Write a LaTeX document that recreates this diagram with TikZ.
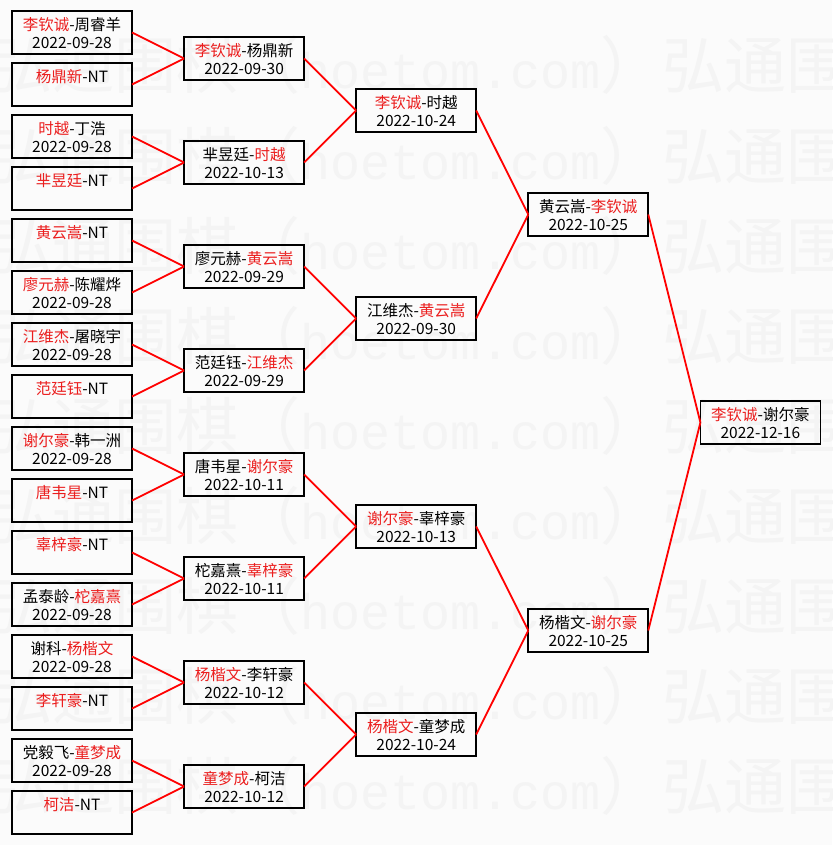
\documentclass[tikz,border=0pt]{standalone}
\usepackage{fontspec}
\setmainfont{Noto Sans CJK SC}
\newfontfamily\wmmono{Liberation Mono}
\definecolor{win}{RGB}{235,30,30}
\definecolor{bgc}{RGB}{251,251,251}
\definecolor{wmc}{RGB}{244,244,244}
\newcommand\W[1]{\textcolor{win}{#1}}
\newcommand\bx[5]{%
  \node[box] (#1) at (#2,#3) {};
  \node[lab] (#1l) at ([yshift=1.8pt]#1.center) {#4};
  \node[lab] (#1d) at ([yshift=-15.8pt]#1.center) {#5};}
\newcommand\bxn[4]{%
  \node[box] (#1) at (#2,#3) {};
  \node[lab] (#1l) at ([yshift=1.8pt]#1.center) {#4};}
\begin{document}
\begin{tikzpicture}[x=1pt,y=-1pt,
  box/.style={draw=black, line width=1.8pt, minimum width=120pt, minimum height=43pt, inner sep=0pt, outer sep=0pt},
  lab/.style={anchor=base, inner sep=0pt, font=\fontsize{15.5}{18}\selectfont},
  wire/.style={draw=red, line width=1.8pt},
  wm/.style={anchor=base west, inner sep=0pt, text=wmc, font=\fontsize{62}{62}\selectfont}]
\useasboundingbox[fill=bgc] (0,0) rectangle (832,845);
\begin{scope}
\clip (0,0) rectangle (832,845);
\foreach \n in {0,...,8}{
  \node[wm] (wm\n) at (-10,{89+90*\n}) {弘通围棋（{\wmmono\fontsize{50}{62}\selectfont hoetom.com}）弘通围棋};
}
\end{scope}
% round 1
\bx{a1}{72}{32.5}{\W{李钦诚}-周睿羊}{2022-09-28}
\bxn{a2}{72}{84.5}{\W{杨鼎新}-NT}
\bx{a3}{72}{136.5}{\W{时越}-丁浩}{2022-09-28}
\bxn{a4}{72}{188.5}{\W{芈昱廷}-NT}
\bxn{a5}{72}{240.5}{\W{黄云嵩}-NT}
\bx{a6}{72}{292.5}{\W{廖元赫}-陈耀烨}{2022-09-28}
\bx{a7}{72}{344.5}{\W{江维杰}-屠晓宇}{2022-09-28}
\bxn{a8}{72}{396.5}{\W{范廷钰}-NT}
\bx{a9}{72}{448.5}{\W{谢尔豪}-韩一洲}{2022-09-28}
\bxn{a10}{72}{500.5}{\W{唐韦星}-NT}
\bxn{a11}{72}{552.5}{\W{辜梓豪}-NT}
\bx{a12}{72}{604.5}{孟泰龄-\W{柁嘉熹}}{2022-09-28}
\bx{a13}{72}{656.5}{谢科-\W{杨楷文}}{2022-09-28}
\bxn{a14}{72}{708.5}{\W{李轩豪}-NT}
\bx{a15}{72}{760.5}{党毅飞-\W{童梦成}}{2022-09-28}
\bxn{a16}{72}{812.5}{\W{柯洁}-NT}
% round 2
\bx{b1}{244.1}{58.5}{\W{李钦诚}-杨鼎新}{2022-09-30}
\bx{b2}{244.1}{162.5}{芈昱廷-\W{时越}}{2022-10-13}
\bx{b3}{244.1}{266.5}{廖元赫-\W{黄云嵩}}{2022-09-29}
\bx{b4}{244.1}{370.5}{范廷钰-\W{江维杰}}{2022-09-29}
\bx{b5}{244.1}{474.5}{唐韦星-\W{谢尔豪}}{2022-10-11}
\bx{b6}{244.1}{578.5}{柁嘉熹-\W{辜梓豪}}{2022-10-11}
\bx{b7}{244.1}{682.5}{\W{杨楷文}-李轩豪}{2022-10-12}
\bx{b8}{244.1}{786.5}{\W{童梦成}-柯洁}{2022-10-12}
% round 3
\bx{c1}{416.2}{110.5}{\W{李钦诚}-时越}{2022-10-24}
\bx{c2}{416.2}{318.5}{江维杰-\W{黄云嵩}}{2022-09-30}
\bx{c3}{416.2}{526.5}{\W{谢尔豪}-辜梓豪}{2022-10-13}
\bx{c4}{416.2}{734.5}{\W{杨楷文}-童梦成}{2022-10-24}
% round 4
\bx{d1}{588.3}{214.5}{黄云嵩-\W{李钦诚}}{2022-10-25}
\bx{d2}{588.3}{630.5}{杨楷文-\W{谢尔豪}}{2022-10-25}
% final
\bx{f}{760.4}{422.5}{\W{李钦诚}-谢尔豪}{2022-12-16}
% connectors
\foreach \i/\j in {1/1,2/1,3/2,4/2,5/3,6/3,7/4,8/4,9/5,10/5,11/6,12/6,13/7,14/7,15/8,16/8}
  \draw[wire] (a\i.east) -- (b\j.west);
\foreach \i/\j in {1/1,2/1,3/2,4/2,5/3,6/3,7/4,8/4}
  \draw[wire] (b\i.east) -- (c\j.west);
\foreach \i/\j in {1/1,2/1,3/2,4/2}
  \draw[wire] (c\i.east) -- (d\j.west);
\draw[wire] (d1.east) -- (f.west);
\draw[wire] (d2.east) -- (f.west);
\end{tikzpicture}
\end{document}
